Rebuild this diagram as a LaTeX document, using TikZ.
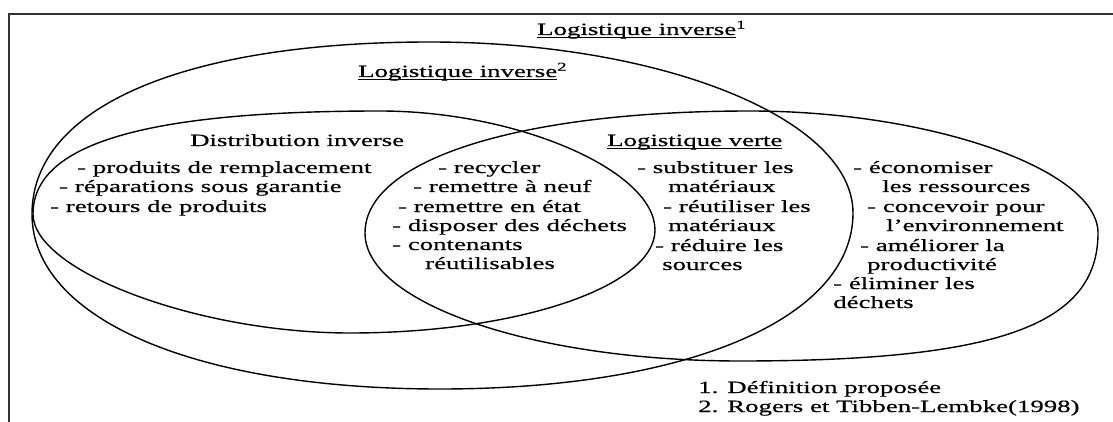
\documentclass[tikz,border=0pt]{standalone}
\usepackage{fontspec}
\setmainfont{Liberation Serif}[FakeStretch=1.56,FakeBold=0.5]
% underline drawn as a rule below the baseline
\newcommand\ulin[1]{\setbox0\hbox{#1}\rlap{\rule[-3pt]{\wd0}{1.1pt}}\box0}
\begin{document}
\begin{tikzpicture}[x=1pt,y=-1pt,
  lbl/.style={anchor=base west, inner sep=0pt, font=\fontsize{17.2}{20}\selectfont},
  setline/.style={line width=1.4pt, black},
  framebox/.style={line width=2pt, black!80}]
\useasboundingbox (0,0) rectangle (1113,422);
% frame
\draw[framebox] (9,422) -- (9,14) -- (1113,14);

% each set: four quarter curves through its left, top, right and bottom points
% Logistique inverse (2)
\draw[setline] (32,214)
  .. controls (32,107.4) and (183.2,42) .. (430,42)
  .. controls (662.7,42) and (853,119) .. (853,213)
  .. controls (853,318.6) and (687.8,389) .. (440,389)
  .. controls (195.2,389) and (32,319) .. cycle;
% Distribution inverse
\draw[setline] (33,214)
  .. controls (33,144) and (144,111) .. (380,111)
  .. controls (517.5,111) and (655,170.5) .. (655,230)
  .. controls (655,286.7) and (517.8,333) .. (350,333)
  .. controls (197.8,333) and (33,271.1) .. cycle;
% Logistique verte
\draw[setline] (365,233)
  .. controls (365,159.8) and (519,111) .. (750,111)
  .. controls (931,111) and (1098,169.6) .. (1098,233)
  .. controls (1098,325.2) and (997.8,361) .. (740,361)
  .. controls (533.8,361) and (365,303.4) .. cycle;

% titles
\node[lbl] (t1) at (537,35) {\ulin{Logistique inverse}\textsuperscript{1}};
\node[lbl] (t2) at (358,77) {\ulin{Logistique inverse}\textsuperscript{2}};
\node[lbl] (t3) at (190,146) {Distribution inverse};
\node[lbl] (t4) at (607,146) {\ulin{Logistique verte}};

% distribution inverse items
\node[lbl] (a1) at (77,173) {- produits de remplacement};
\node[lbl] (a2) at (59,192) {- réparations sous garantie};
\node[lbl] (a3) at (50,212) {- retours de produits};

% common items
\node[lbl] (b1) at (438,173) {- recycler};
\node[lbl] (b2) at (413,192) {- remettre à neuf};
\node[lbl] (b3) at (398,212) {- remettre en état};
\node[lbl] (b4) at (392,231) {- disposer des déchets};
\node[lbl] (b5) at (392,250) {- contenants};
\node[lbl] (b6) at (425,269) {réutilisables};

% logistique verte items
\node[lbl] (c1) at (637,173) {- substituer les};
\node[lbl] (c2) at (668,192) {matériaux};
\node[lbl] (c3) at (663,212) {- réutiliser les};
\node[lbl] (c4) at (668,231) {matériaux};
\node[lbl] (c5) at (655,251) {- réduire les};
\node[lbl] (c6) at (662,270) {sources};

% outer items
\node[lbl] (d1) at (853,173) {- économiser};
\node[lbl] (d2) at (882,192) {les ressources};
\node[lbl] (d3) at (867,212) {- concevoir pour};
\node[lbl] (d4) at (886,231) {l’environnement};
\node[lbl] (d5) at (860,251) {- améliorer la};
\node[lbl] (d6) at (867,270) {productivité};
\node[lbl] (d7) at (833,289) {- éliminer les};
\node[lbl] (d8) at (833,308) {déchets};

% notes
\node[lbl] (n1) at (698,393) {1. Définition proposée};
\node[lbl] (n2) at (698,412) {2. Rogers et Tibben-Lembke(1998)};
\end{tikzpicture}
\end{document}
